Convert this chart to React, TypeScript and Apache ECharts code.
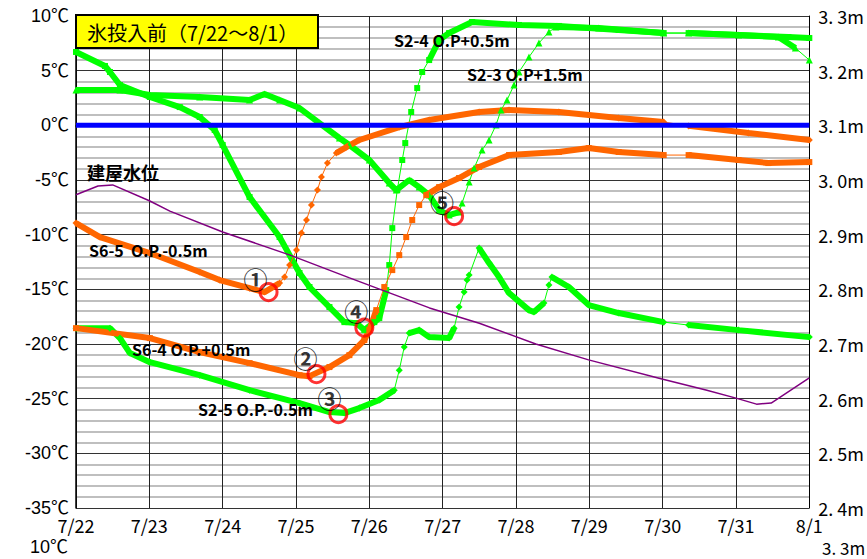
import React, { useEffect, useRef } from 'react';
import * as echarts from 'echarts';

// x = days since 7/22 00:00
const DATES = ['7/22', '7/23', '7/24', '7/25', '7/26', '7/27', '7/28', '7/29', '7/30', '7/31', '8/1'];

// S2-4 O.P+0.5m (°C)
const S2_4: [number, number][] = [
  [0, 6.71], [0.395, 5.43], [0.463, 4.88], [0.599, 3.69], [1.007, 2.59], [1.415, 1.67], [1.687, 0.76],
  [1.891, -0.43], [2.0, -1.8], [2.367, -6.56], [2.776, -10.22], [3.048, -13.51], [3.184, -14.79],
  [3.456, -16.62], [3.66, -18.0], [3.823, -18.09], [3.932, -18.73], [4.068, -18.0], [4.136, -17.63],
  [4.231, -15.07], [4.272, -12.78], [4.313, -9.4], [4.381, -5.92], [4.449, -3.17], [4.49, -1.62],
  [4.571, 1.22], [4.653, 3.41], [4.721, 4.88], [4.816, 5.97], [4.952, 7.8], [5.088, 8.44], [5.401, 9.45],
  [6.041, 9.18], [6.585, 9.09], [7.401, 8.72], [8.014, 8.44], [8.354, 8.44], [9.034, 8.26], [9.714, 8.08],
  [10, 7.99],
];
// S2-3 O.P+1.5m (°C)
const S2_3: [number, number][] = [
  [0, 3.23], [0.599, 3.23], [1.007, 2.77], [1.687, 2.59], [2.367, 2.31], [2.571, 2.86], [2.776, 2.31],
  [3.048, 1.58], [3.32, 0.21], [3.592, -1.16], [3.728, -1.8], [4.0, -3.17], [4.272, -5.28], [4.367, -5.92],
  [4.544, -5.0], [4.68, -5.65], [4.816, -6.38], [4.952, -7.75], [5.088, -8.21], [5.224, -7.93],
  [5.265, -7.11], [5.361, -5.19], [5.429, -3.91], [5.537, -2.26], [5.633, -1.34], [5.728, 0.03],
  [5.796, 1.4], [5.878, 2.31], [5.973, 3.69], [6.041, 4.88], [6.177, 6.25], [6.313, 7.53], [6.449, 8.54],
  [6.544, 8.99], [7.129, 8.9], [8.014, 8.44], [8.354, 8.44], [9.034, 8.26], [9.578, 8.08], [9.81, 7.07],
  [10, 5.97],
];
// S2-5 O.P.-0.5m (°C)
const S2_5: [number, number][] = [
  [0, -18.55], [0.463, -18.55], [0.599, -19.46], [0.735, -20.83], [1.007, -21.66], [1.687, -22.85],
  [2.367, -24.22], [3.048, -25.41], [3.456, -26.23], [3.66, -26.32], [3.864, -25.86], [4.136, -25.13],
  [4.34, -24.22], [4.408, -22.39], [4.476, -20.28], [4.544, -19.0], [4.68, -18.73], [4.816, -19.37],
  [5.088, -19.46], [5.156, -18.55], [5.224, -16.62], [5.293, -15.25], [5.333, -14.15], [5.361, -13.7],
  [5.497, -11.23], [5.633, -12.6], [5.769, -13.88], [5.905, -15.34], [6.177, -16.9], [6.245, -17.08],
  [6.381, -16.26], [6.449, -14.61], [6.49, -13.88], [6.721, -14.79], [6.993, -16.44], [7.401, -17.17],
  [8.014, -18.0], [8.354, -18.27], [9.034, -18.73], [10, -19.37],
];
// S6-5 O.P.-0.5m (°C)
const S6_5: [number, number][] = [
  [0, -8.94], [0.327, -10.22], [1.007, -11.68], [1.687, -13.42], [1.959, -14.15], [2.367, -14.89],
  [2.571, -15.25], [2.776, -14.43], [2.844, -13.88], [2.912, -12.78], [3.007, -11.41], [3.075, -9.85],
  [3.143, -8.66], [3.211, -7.29], [3.293, -5.92], [3.347, -4.73], [3.429, -3.45], [3.551, -2.53],
  [3.687, -1.99], [3.864, -1.34], [4.408, -0.16], [4.816, 0.49], [5.497, 1.22], [5.905, 1.4],
  [6.585, 1.22], [7.401, 0.67], [8.014, 0.3], [8.354, -0.05], [9.17, -0.7], [10, -1.34],
];
// S6-4 O.P.+0.5m (°C)
const S6_4: [number, number][] = [
  [0, -18.55], [1.007, -19.46], [1.687, -20.74], [2.367, -21.75], [3.048, -22.85], [3.184, -22.94],
  [3.456, -22.11], [3.728, -21.02], [3.932, -19.64], [4.0, -18.73], [4.095, -16.9], [4.204, -14.79],
  [4.313, -13.24], [4.408, -11.87], [4.503, -10.22], [4.585, -8.66], [4.68, -7.29], [4.776, -6.38],
  [4.952, -5.65], [5.224, -4.82], [5.497, -3.81], [5.905, -2.72], [6.585, -2.44], [6.993, -2.08],
  [7.401, -2.44], [8.014, -2.72], [8.354, -2.72], [9.034, -3.17], [9.442, -3.45], [10, -3.36],
];
// 建屋水位 (m)
const WATER: [number, number][] = [
  [0, 2.973], [0.3, 2.989], [0.5, 2.991], [1.0, 2.962], [1.28, 2.943], [2.0, 2.905], [2.91, 2.863],
  [3.73, 2.821], [4.82, 2.766], [5.5, 2.738], [6.27, 2.7], [6.99, 2.671], [7.99, 2.636], [8.59, 2.616],
  [9.0, 2.601], [9.28, 2.59], [9.48, 2.592], [10, 2.638],
];
const ZERO_LINE: [number, number][] = [[0, 0], [10, 0]];

const MARK_POINTS: [number, number][] = [[2.626, -15.25], [3.279, -22.75], [3.578, -26.41], [3.932, -18.5], [5.156, -8.3]];
const MARK_LABELS = ['①', '②', '③', '④', '⑤'];
const MARK_OFFSETS = [[-13, -14], [-11, -17], [-9, -17], [-8, -17], [-12, -15]];

const GREEN = '#00ff00';
const ORANGE = '#ff6600';
const GAP: [number, number] = [8.0, 8.36];

function thickData(pts: [number, number][], ranges: [number, number][]) {
  const out: any[] = [];
  for (let i = 0; i < pts.length; i++) {
    out.push(pts[i]);
    if (i < pts.length - 1) {
      const a = pts[i][0], b = pts[i + 1][0];
      if (ranges.some(([lo, hi]) => a >= lo - 1e-6 && b <= hi + 1e-6)) {
        out.push([(a + b) / 2, null]);
      }
    }
  }
  return out;
}

function curve(name: string, pts: [number, number][], color: string, symbol: string, size: number, ranges: [number, number][]) {
  return [
    {
      type: 'line', name: name + '-thin', data: pts, symbol, symbolSize: size, showSymbol: true,
      lineStyle: { color, width: 1 }, itemStyle: { color }, z: 3,
    },
    {
      type: 'line', name: name, data: thickData(pts, [GAP, ...ranges]), showSymbol: false, symbol: 'none',
      connectNulls: false, lineStyle: { color, width: 6 }, z: 3,
    },
  ];
}

const LABEL_FONT = 'bold 16px "Noto Sans CJK JP", sans-serif';

export default function App() {
  const ref = useRef<HTMLDivElement>(null);
  useEffect(() => {
    if (!ref.current) return;
    const chart = echarts.init(ref.current, undefined, { renderer: 'svg' });
    const txt = (text: string, x: number, y: number, font: string, extra: any = {}) => ({
      type: 'text', x, y, z: 10,
      style: { text, font, fill: '#000', textVerticalAlign: 'middle', ...extra },
    });
    chart.setOption({
      animation: false,
      backgroundColor: '#fff',
      grid: { left: 76, right: 56, top: 16, bottom: 51, containLabel: false },
      xAxis: {
        type: 'value', min: 0, max: 10, interval: 1,
        axisLine: { show: true, lineStyle: { color: '#000', width: 1.5 } },
        axisTick: { show: false },
        axisLabel: {
          formatter: (v: number) => DATES[Math.round(v)] ?? '',
          color: '#000', fontSize: 18, margin: 8, fontFamily: '"Noto Sans CJK JP", sans-serif',
        },
        splitLine: { show: true, lineStyle: { color: '#222', width: 1 } },
      },
      yAxis: [
        {
          type: 'value', min: -35, max: 10, interval: 5,
          axisLine: { show: true, lineStyle: { color: '#000', width: 1.5 } },
          axisTick: { show: false },
          axisLabel: {
            formatter: (v: number) => `${v}℃`, color: '#000', fontSize: 18, margin: 7,
            fontFamily: '"Liberation Sans", "Noto Sans CJK JP", sans-serif',
          },
          splitLine: { show: true, lineStyle: { color: '#333', width: 1 } },
          minorTick: { show: false, splitNumber: 5 },
          minorSplitLine: { show: true, lineStyle: { color: '#aaa', width: 1.5 } },
        },
        {
          type: 'value', min: 2.4, max: 3.3, interval: 0.1, position: 'right',
          axisLine: { show: true, lineStyle: { color: '#000', width: 1 } },
          axisTick: { show: false },
          axisLabel: {
            formatter: (v: number) => v.toFixed(1).replace('.', '. ') + 'm', color: '#000', fontSize: 18, margin: 9,
            fontFamily: '"Noto Sans CJK JP", sans-serif',
          },
          splitLine: { show: false },
        },
      ],
      series: [
        ...curve('S2-5', S2_5, GREEN, 'diamond', 7, [[4.34, 4.55], [5.09, 5.55], [6.38, 6.49]]),
        ...curve('S2-3', S2_3, GREEN, 'triangle', 7, [[5.2, 6.55], [9.8, 10]]),
        ...curve('S2-4', S2_4, GREEN, 'rect', 6, [[4.2, 4.82]]),
        ...curve('S6-4', S6_4, ORANGE, 'rect', 6, [[4.09, 4.78]]),
        ...curve('S6-5', S6_5, ORANGE, 'diamond', 7, [[2.77, 3.6]]),
        {
          type: 'line', name: '0℃', data: ZERO_LINE, showSymbol: false, symbol: 'none',
          lineStyle: { color: '#0000ff', width: 5 }, z: 4,
        },
        {
          type: 'line', name: '建屋水位', yAxisIndex: 1, data: WATER, showSymbol: false, symbol: 'none',
          lineStyle: { color: '#800080', width: 1.5 }, z: 5,
        },
        {
          type: 'scatter', name: 'marks', z: 6,
          data: MARK_POINTS.map((p, i) => ({
            value: p,
            label: {
              show: true, formatter: MARK_LABELS[i], position: 'inside', offset: MARK_OFFSETS[i],
              color: '#000', fontSize: 24, fontWeight: 'bold', fontFamily: '"Noto Sans CJK JP", sans-serif',
            },
          })),
          symbol: 'circle', symbolSize: 17,
          itemStyle: { color: 'rgba(0,0,0,0)', borderColor: '#ff0000', borderWidth: 3 },
        },
      ],
      graphic: [
        {
          type: 'rect', shape: { x: 76, y: 15, width: 242, height: 33 }, z: 10,
          style: { fill: '#ffff00', stroke: '#000', lineWidth: 2 },
        },
        txt('氷投入前（7/22～8/1）', 87, 32, '20px "Noto Sans CJK JP", sans-serif'),
        txt('S2-4 O.P+0.5m', 394, 40, LABEL_FONT),
        txt('S2-3 O.P+1.5m', 467, 74, LABEL_FONT),
        txt('建屋水位', 87, 172, 'bold 18px "Noto Sans CJK JP", sans-serif'),
        txt('S6-5  O.P.-0.5m', 89, 250, LABEL_FONT),
        txt('S6-4 O.P.+0.5m', 132, 349, LABEL_FONT),
        txt('S2-5 O.P.-0.5m', 198, 409, LABEL_FONT),
        txt('10℃', 30, 547, '18px "Liberation Sans", "Noto Sans CJK JP", sans-serif'),
        txt('3. 3m', 822, 547, '17px "Noto Sans CJK JP", sans-serif'),
      ],
    });
    return () => chart.dispose();
  }, []);
  return <div ref={ref} style={{ position: 'fixed', left: 0, top: 0, width: 867, height: 559 }} />;
}
